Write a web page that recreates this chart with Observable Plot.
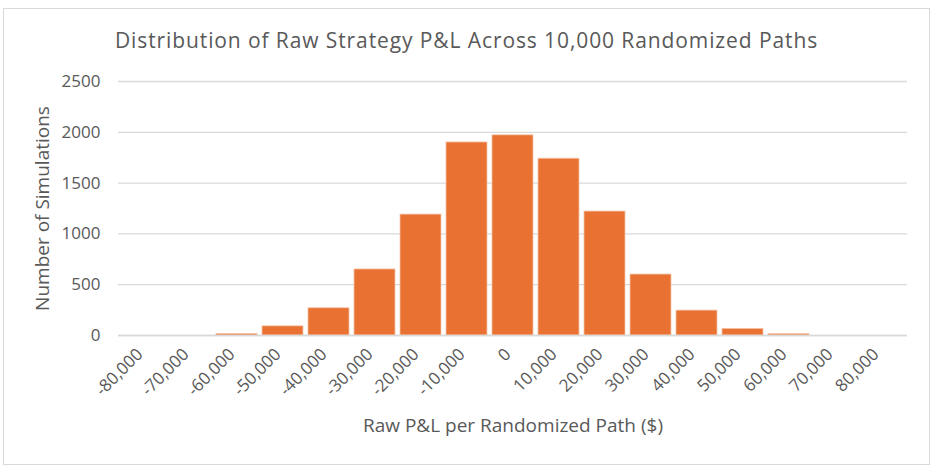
<!DOCTYPE html>
<html>
<head>
<meta charset="utf-8">
<script src="https://cdn.jsdelivr.net/npm/d3@7"></script>
<script src="https://cdn.jsdelivr.net/npm/@observablehq/plot@0.6"></script>
<style>
  html, body { margin: 0; padding: 0; background: #fff; }
  #wrap { position: relative; width: 940px; height: 475px; font-family: "Open Sans", "Noto Sans", sans-serif; }
  #border { position: absolute; left: 3px; top: 8px; width: 925px; height: 455px; border: 1.5px solid #d9d9d9; pointer-events: none; }
  #title { position: absolute; left: 3px; width: 927px; top: 26px; text-align: center; font-size: 21px; letter-spacing: 0.9px; color: #595959; line-height: 28px; }
</style>
</head>
<body>
<div id="wrap">
  <div id="border"></div>
  <div id="title">Distribution of Raw Strategy P&amp;L Across 10,000 Randomized Paths</div>
</div>
<script>
const categories = ["-80,000","-70,000","-60,000","-50,000","-40,000","-30,000","-20,000","-10,000","0","10,000","20,000","30,000","40,000","50,000","60,000","70,000","80,000"];
const counts = [0, 0, 15, 90, 268, 650, 1190, 1900, 1970, 1740, 1220, 600, 245, 65, 13, 0, 0];
const yTicks = [0, 500, 1000, 1500, 2000, 2500];
const xTitle = "Raw P&L per Randomized Path ($)";
const yTitle = "Number of Simulations";

const data = categories.map((c, i) => ({cat: c, count: counts[i]}));
const textColor = "#595959";

const chart = Plot.plot({
  width: 940,
  height: 475,
  marginLeft: 118,
  marginRight: 33,
  marginTop: 81,
  marginBottom: 140,
  style: { fontFamily: "'Open Sans', 'Noto Sans', sans-serif", fontSize: "17px", color: textColor, background: "transparent" },
  x: { domain: categories, padding: 0.1, label: null },
  y: { domain: [0, 2500], label: null },
  marks: [
    Plot.gridY(yTicks, { stroke: "#d9d9d9", strokeOpacity: 1, strokeWidth: 1.3 }),
    Plot.barY(data, { x: "cat", y: "count", fill: "#E97132", stroke: "#f4c3a6", strokeWidth: 0.8 }),
    Plot.ruleY([0], { stroke: "#d9d9d9", strokeWidth: 1.5 }),
    Plot.axisY({ ticks: yTicks, tickSize: 0, tickPadding: 18, tickFormat: d => String(d), label: null, fill: textColor }),
    Plot.axisX({ tickSize: 0, tickRotate: -45, tickPadding: 16, dx: -5, label: null, fill: textColor }),
    Plot.text([xTitle], { text: d => d, frameAnchor: "bottom", dy: 96, fontSize: 19, fill: textColor }),
    Plot.text([yTitle], { text: d => d, frameAnchor: "left", textAnchor: "middle", rotate: -90, dx: -76, fontSize: 19, fill: textColor })
  ]
});
document.getElementById("wrap").prepend(chart);
</script>
</body>
</html>
